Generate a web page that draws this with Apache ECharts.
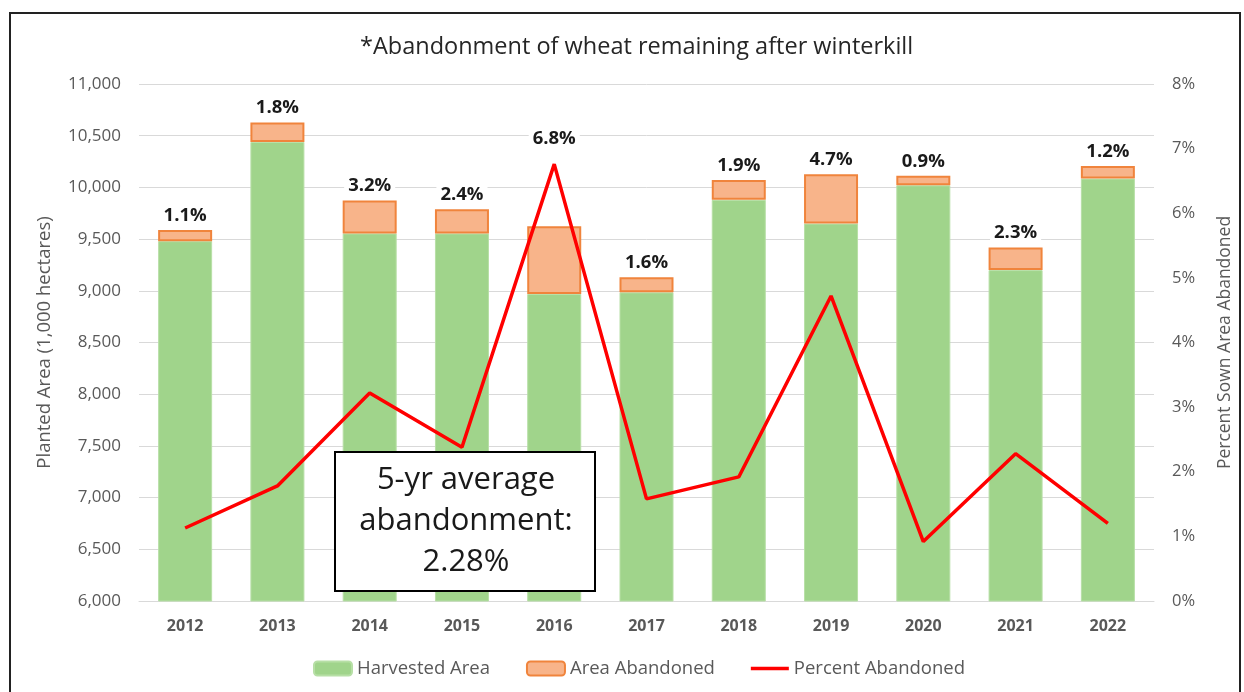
<!DOCTYPE html>
<html>
<head>
<meta charset="utf-8">
<script src="https://cdn.jsdelivr.net/npm/echarts@6/dist/echarts.min.js"></script>
<style>
  html, body { margin: 0; padding: 0; background: #fff; }
  #main { width: 1244px; height: 692px; }
</style>
</head>
<body>
<div id="main"></div>
<script>
  const years = ['2012', '2013', '2014', '2015', '2016', '2017', '2018', '2019', '2020', '2021', '2022'];
  // 1,000 hectares
  const harvested = [9480, 10440, 9555, 9555, 8970, 8985, 9880, 9650, 10020, 9200, 10085];
  const abandoned = [108, 188, 318, 233, 655, 146, 192, 478, 92, 218, 123];
  // percent of sown area
  const pctAbandoned = [1.13, 1.78, 3.22, 2.38, 6.76, 1.58, 1.92, 4.72, 0.92, 2.28, 1.2];
  const leftTicks = { min: 6000, max: 11000, interval: 500 };
  const rightTicks = { min: 0, max: 8, interval: 1 };

  const fontFam = '"Open Sans", sans-serif';
  const grey = '#595959';

  const chart = echarts.init(document.getElementById('main'));

  // the 2016 label sits above the red line peak instead of on the bar
  const abandonedData = abandoned.map((v, i) => (i === 4 ? { value: v, label: { offset: [0, -73] } } : v));

  const option = {
    backgroundColor: '#fff',
    textStyle: { fontFamily: fontFam },
    title: {
      text: '*Abandonment of wheat remaining after winterkill',
      left: 355,
      top: 30,
      textStyle: { fontSize: 23.5, fontWeight: 'normal', color: '#262626', fontFamily: fontFam }
    },
    legend: {
      top: 654,
      left: 308,
      itemWidth: 38,
      itemHeight: 14,
      itemGap: 36,
      textStyle: { fontSize: 18.5, color: grey, fontFamily: fontFam },
      data: [
        'Harvested Area',
        'Area Abandoned',
        { name: 'Percent Abandoned', icon: 'path://M0,0 L100,0 L100,9 L0,9 Z' }
      ]
    },
    grid: { left: 139, right: 90, top: 84, bottom: 91 },
    xAxis: {
      type: 'category',
      data: years,
      axisLine: { lineStyle: { color: '#d9d9d9' } },
      axisTick: { show: false },
      axisLabel: { color: grey, fontSize: 16, fontWeight: 'bold', margin: 17, fontFamily: fontFam }
    },
    yAxis: [
      {
        type: 'value',
        min: leftTicks.min,
        max: leftTicks.max,
        interval: leftTicks.interval,
        name: 'Planted Area (1,000 hectares)',
        nameLocation: 'middle',
        nameGap: 85,
        nameTextStyle: { color: grey, fontSize: 18.5, fontFamily: fontFam },
        axisLine: { show: false },
        axisTick: { show: false },
        axisLabel: {
          color: grey, fontSize: 17, margin: 18, fontFamily: fontFam,
          formatter: v => v.toLocaleString('en-US')
        },
        splitLine: { lineStyle: { color: '#d9d9d9' } }
      },
      {
        type: 'value',
        min: rightTicks.min,
        max: rightTicks.max,
        interval: rightTicks.interval,
        name: 'Percent Sown Area Abandoned',
        nameLocation: 'middle',
        nameGap: 62,
        nameRotate: 90,
        nameTextStyle: { color: grey, fontSize: 17.5, fontFamily: fontFam },
        axisLine: { show: false },
        axisTick: { show: false },
        axisLabel: { color: grey, fontSize: 16.5, margin: 18, formatter: '{value}%', fontFamily: fontFam },
        splitLine: { show: false }
      }
    ],
    series: [
      {
        name: 'Harvested Area',
        type: 'bar',
        stack: 'area',
        barWidth: 54,
        data: harvested,
        itemStyle: { color: '#a0d48b', borderColor: '#b7dfa6', borderWidth: 1 }
      },
      {
        name: 'Area Abandoned',
        type: 'bar',
        stack: 'area',
        barWidth: 54,
        data: abandonedData,
        itemStyle: { color: '#f8b48a', borderColor: '#f0843c', borderWidth: 2 },
        label: {
          show: true,
          position: 'top',
          distance: 4,
          color: '#1a1a1a',
          fontSize: 18.5,
          fontWeight: 'bold',
          fontFamily: fontFam,
          backgroundColor: '#fff',
          padding: [1, 4],
          formatter: p => pctAbandoned[p.dataIndex].toFixed(1) + '%'
        }
      },
      {
        name: 'Percent Abandoned',
        type: 'line',
        yAxisIndex: 1,
        data: pctAbandoned,
        symbol: 'none',
        z: 5,
        lineStyle: { color: '#ff0000', width: 3.5 },
        itemStyle: { color: '#ff0000' }
      }
    ],
    graphic: [
      {
        type: 'rect',
        z: 100,
        shape: { x: 335, y: 452, width: 260, height: 139 },
        style: { fill: '#fff', stroke: '#000', lineWidth: 2 }
      },
      {
        type: 'text',
        z: 101,
        x: 466,
        y: 521,
        style: {
          text: '5-yr average\nabandonment:\n2.28%',
          fill: '#1a1a1a',
          font: '31px ' + fontFam,
          lineHeight: 41,
          align: 'center',
          verticalAlign: 'middle'
        }
      },
      {
        type: 'rect',
        z: 100,
        silent: true,
        shape: { x: 10, y: 13, width: 1230, height: 700 },
        style: { fill: null, stroke: '#222', lineWidth: 2 }
      }
    ]
  };

  chart.setOption(option);
</script>
</body>
</html>
